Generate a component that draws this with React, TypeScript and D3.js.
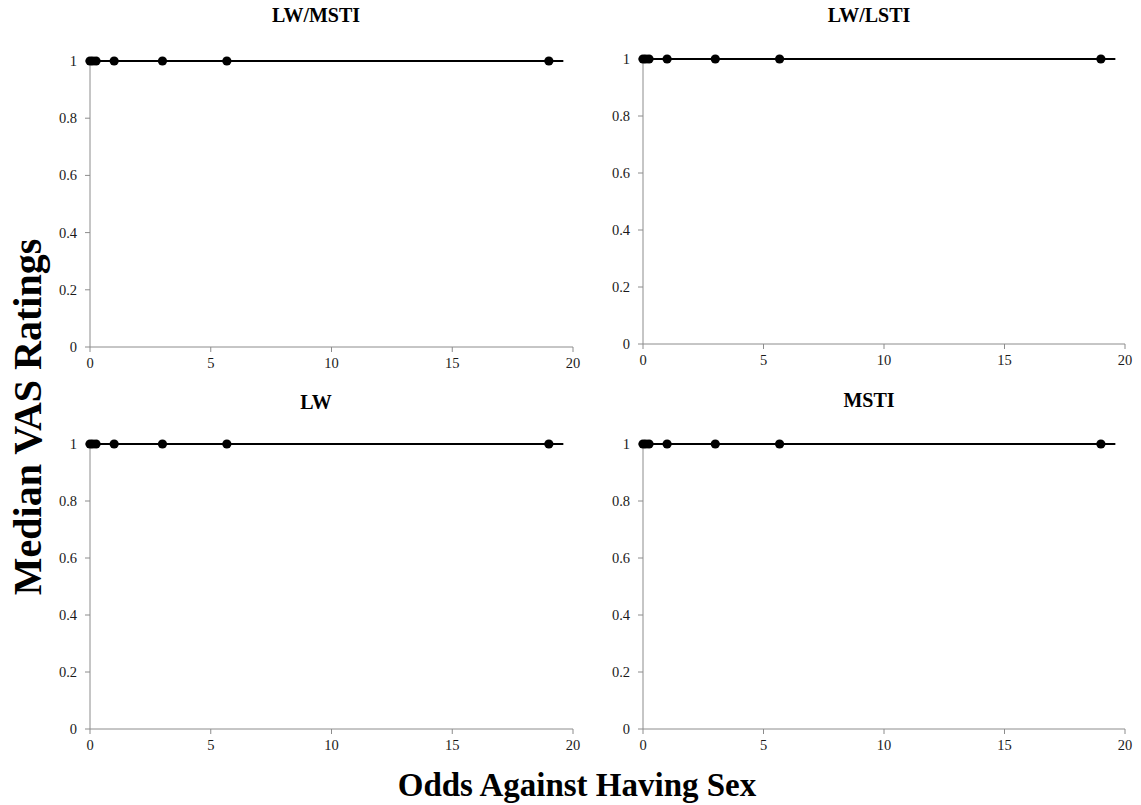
import React from "react";
import * as d3 from "d3";

const oddsValues = [0, 0.111, 0.25, 1, 3, 5.667, 19];
const panelTitles = ["LW/MSTI", "LW/LSTI", "LW", "MSTI"];
const medianLWMSTI = [1, 1, 1, 1, 1, 1, 1];
const medianLWLSTI = [1, 1, 1, 1, 1, 1, 1];
const medianLW = [1, 1, 1, 1, 1, 1, 1];
const medianMSTI = [1, 1, 1, 1, 1, 1, 1];
const fitLineRange = [-0.15, 19.6];
const xTicks = [0, 5, 10, 15, 20];
const yTicks = [0, 0.2, 0.4, 0.6, 0.8, 1];

const seriesList = [medianLWMSTI, medianLWLSTI, medianLW, medianMSTI];

const FONT = "'Liberation Serif', 'Times New Roman', serif";

const panels = [
  { x0: 90, x1: 573, y0: 347, y1: 61, tx: 316, ty: 22 },
  { x0: 643, x1: 1125, y0: 344, y1: 59, tx: 869, ty: 22 },
  { x0: 90, x1: 573, y0: 729, y1: 444, tx: 316, ty: 409 },
  { x0: 643, x1: 1125, y0: 729, y1: 444, tx: 869, ty: 407 },
];

function Panel({ p, title, values }: any) {
  const x = d3.scaleLinear().domain([0, 20]).range([p.x0, p.x1]);
  const y = d3.scaleLinear().domain([0, 1]).range([p.y0, p.y1]);
  const fitY = values[0];
  const axisColor = "#8c8c8c";
  return (
    <g>
      <line x1={p.x0} x2={p.x0} y1={p.y0} y2={p.y1} stroke={axisColor} strokeWidth={1} />
      <line x1={p.x0} x2={p.x1} y1={p.y0} y2={p.y0} stroke={axisColor} strokeWidth={1} />
      {yTicks.map((t) => (
        <g key={"y" + t}>
          <line x1={p.x0 - 5} x2={p.x0} y1={y(t)} y2={y(t)} stroke={axisColor} />
          <text x={p.x0 - 13} y={y(t)} dy="0.35em" textAnchor="end" fontFamily={FONT} fontSize={14.5} fill="#1a1a1a">
            {d3.format("")(t)}
          </text>
        </g>
      ))}
      {xTicks.map((t) => (
        <g key={"x" + t}>
          <line x1={x(t)} x2={x(t)} y1={p.y0} y2={p.y0 + 5} stroke={axisColor} />
          <text x={x(t)} y={p.y0 + 21} textAnchor="middle" fontFamily={FONT} fontSize={14.5} fill="#1a1a1a">
            {t}
          </text>
        </g>
      ))}
      <line
        x1={x(fitLineRange[0])}
        x2={x(fitLineRange[1])}
        y1={y(fitY)}
        y2={y(fitY)}
        stroke="#000"
        strokeWidth={1.8}
      />
      {oddsValues.map((o, i) => (
        <circle key={i} cx={x(o)} cy={y(values[i])} r={4.6} fill="#000" />
      ))}
      <text x={p.tx} y={p.ty} textAnchor="middle" fontFamily={FONT} fontWeight="bold" fontSize={20} fill="#000">
        {title}
      </text>
    </g>
  );
}

export default function App() {
  return (
    <svg width={1141} height={805} style={{ position: "absolute", left: 0, top: 0, background: "#fff" }}>
      <rect width={1141} height={805} fill="#fff" />
      {panels.map((p, i) => (
        <Panel key={i} p={p} title={panelTitles[i]} values={seriesList[i]} />
      ))}
      <text
        transform="translate(41,417) rotate(-90)"
        textAnchor="middle"
        fontFamily={FONT}
        fontWeight="bold"
        fontSize={40}
        fill="#000"
      >
        Median VAS Ratings
      </text>
      <text x={577} y={796} textAnchor="middle" fontFamily={FONT} fontWeight="bold" fontSize={33} fill="#000">
        Odds Against Having Sex
      </text>
    </svg>
  );
}
